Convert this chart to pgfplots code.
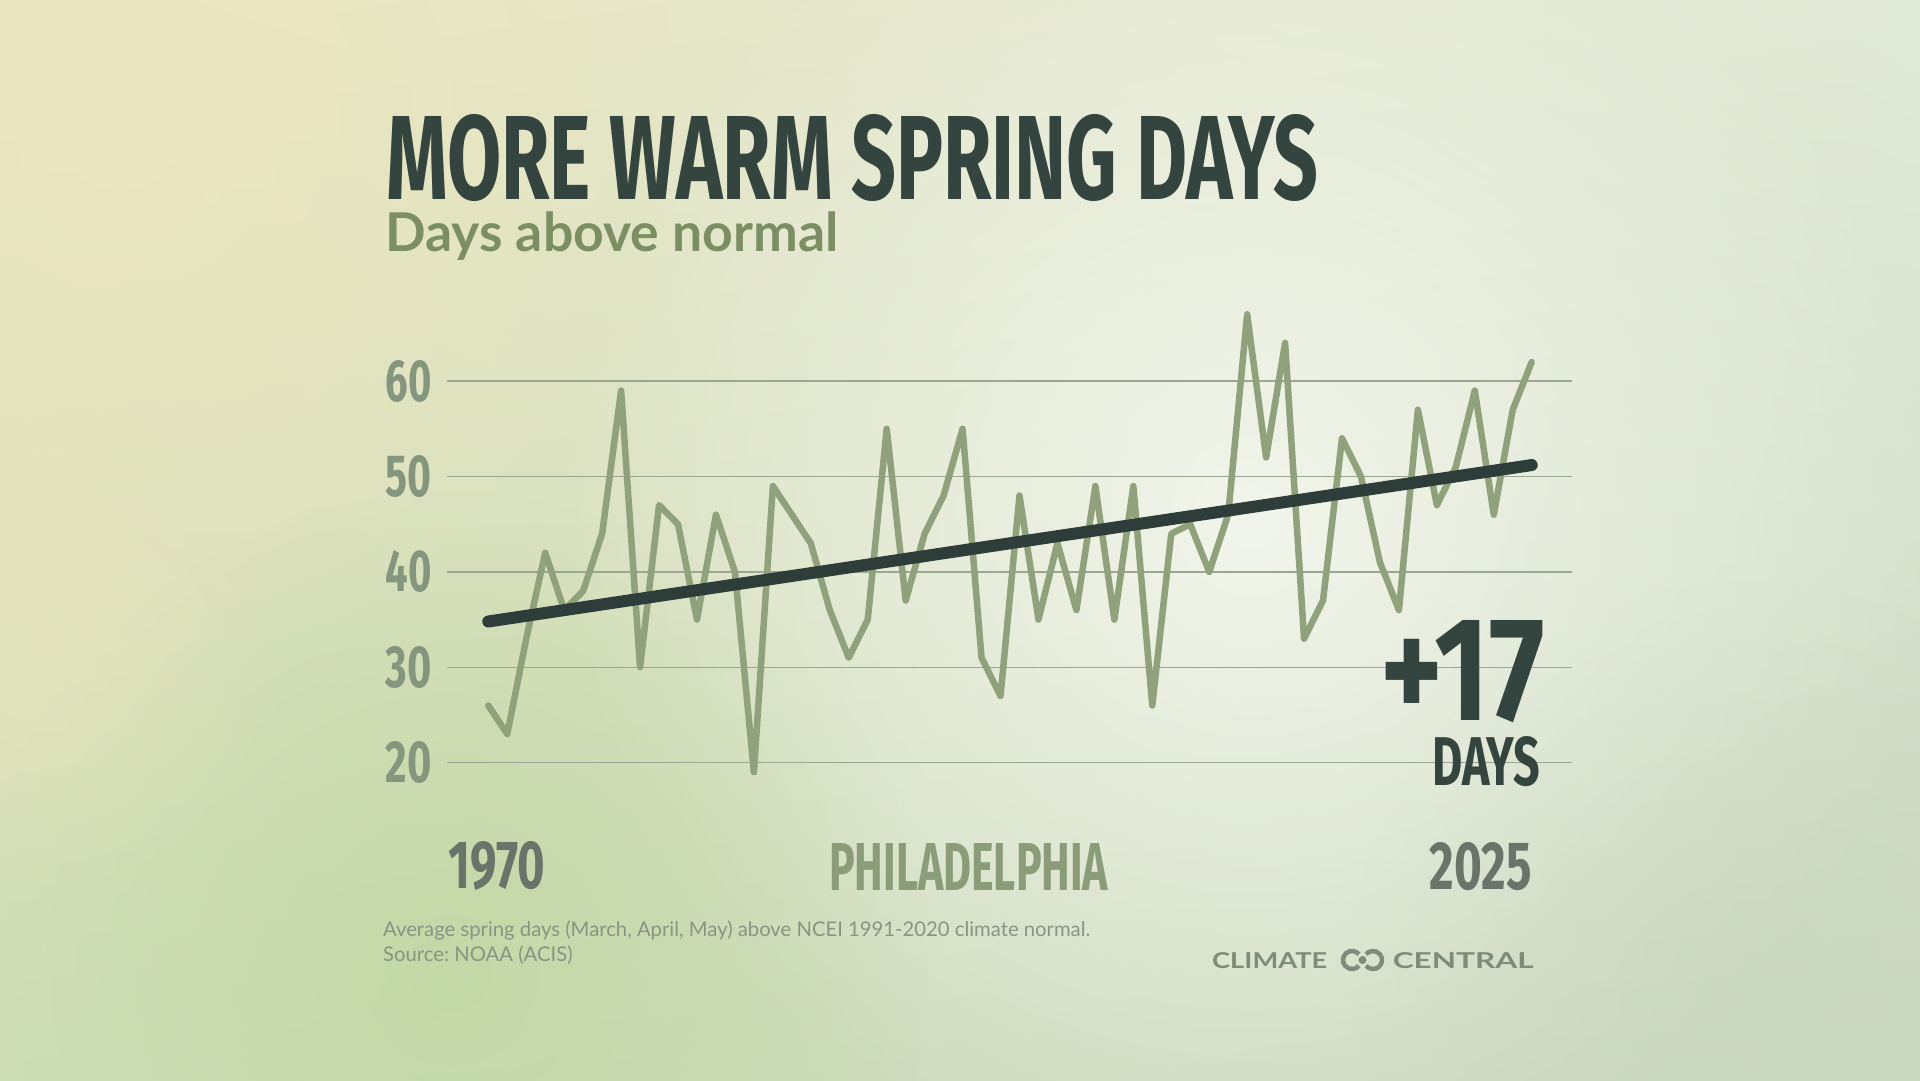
\documentclass[border=0pt]{standalone}
\usepackage{fontspec}
\usepackage{pgfplots}
\pgfplotsset{compat=1.18}
\usetikzlibrary{fadings,shadings}
\setmainfont{Lato}
\newfontfamily\bebas{Fira Sans}
\newfontfamily\lato{Lato}
\frenchspacing
\definecolor{titlec}{HTML}{34443F}
\definecolor{subc}{HTML}{7B8F63}
\definecolor{tickc}{HTML}{84977E}
\definecolor{yearc}{HTML}{6A746A}
\definecolor{cityc}{HTML}{8A9D78}
\definecolor{linec}{HTML}{8FA27C}
\definecolor{trendc}{HTML}{2F3D3A}
\definecolor{gridc}{HTML}{9BA791}
\definecolor{footc}{HTML}{8A9484}
\definecolor{logoc}{HTML}{7F8C7B}
\definecolor{bgUL}{RGB}{233,229,192}
\definecolor{bgUR}{RGB}{226,234,216}
\definecolor{bgLL}{RGB}{206,222,182}
\definecolor{bgLR}{RGB}{203,216,194}
\definecolor{blobW}{RGB}{244,247,239}
\definecolor{blobG}{RGB}{190,214,158}
\definecolor{blobB}{RGB}{236,230,190}
\definecolor{blobR}{RGB}{200,214,188}
\tikzfading[name=fade out, inner color=transparent!0, outer color=transparent!100]
\newcommand{\bb}[3]{\resizebox{#1}{#2}{\bebas\bfseries #3}}
\pgfplotstableread{
year val
1970 26
1971 23
1972 33
1973 42
1974 36
1975 38
1976 44
1977 59
1978 30
1979 47
1980 45
1981 35
1982 46
1983 40
1984 19
1985 49
1986 46
1987 43
1988 36
1989 31
1990 35
1991 55
1992 37
1993 44
1994 48
1995 55
1996 31
1997 27
1998 48
1999 35
2000 43
2001 36
2002 49
2003 35
2004 49
2005 26
2006 44
2007 45
2008 40
2009 46
2010 67
2011 52
2012 64
2013 33
2014 37
2015 54
2016 50
2017 41
2018 36
2019 57
2020 47
2021 51
2022 59
2023 46
2024 57
2025 62
}\datatable
\begin{document}
\begin{tikzpicture}[x=1pt,y=1pt]
\useasboundingbox (0,0) rectangle (1920,1080);
\begin{scope}
\clip (0,0) rectangle (1920,1080);
\shade[upper left=bgUL, upper right=bgUR, lower left=bgLL, lower right=bgLR]
  (0,0) rectangle (1920,1080);
\fill[color=blobW, path fading=fade out, fill opacity=0.9] (1250,560) circle (700);
\fill[color=blobG, path fading=fade out, fill opacity=0.7] (450,110) circle (480);
\fill[color=blobB, path fading=fade out, fill opacity=0.7] (120,950) circle (560);
\fill[color=blobB, path fading=fade out, fill opacity=0.5] (40,420) circle (260);
\fill[color=blobR, path fading=fade out, fill opacity=0.5] (1750,100) circle (400);
\end{scope}
\begin{axis}[
  at={(447pt,269.6pt)}, anchor=south west, scale only axis,
  width=1125pt, height=524.7pt,
  xmin=1967.823, xmax=2027.124, ymin=15, ymax=70,
  axis line style={draw=none}, tick style={draw=none},
  xtick=\empty,
  ytick={20,30,40,50,60},
  yticklabels={\bb{46pt}{41pt}{20},\bb{46pt}{41pt}{30},\bb{46pt}{41pt}{40},\bb{46pt}{41pt}{50},\bb{46pt}{41pt}{60}},
  yticklabel style={anchor=east, inner sep=0pt, xshift=-15pt, text=tickc},
  ymajorgrids, grid style={color=gridc, line width=1.3pt},
  clip=false,
]
\addplot[color=linec, line width=6.5pt, line join=round, line cap=round] table[x=year,y=val] {\datatable};
\addplot[color=trendc, line width=12pt, line cap=round] coordinates {(1970,34.8) (2025,51.2)};
\end{axis}
% titles
\node[anchor=south west, inner sep=0pt, text=titlec] at (386,878) {\bb{932pt}{85pt}{MORE WARM SPRING DAYS}};
\node[anchor=base west, inner sep=0pt, text=subc] at (385,828) {\resizebox{453pt}{!}{\lato\bfseries Days above normal}};
% x labels
\node[anchor=south west, inner sep=0pt, text=yearc] at (448,189) {\bb{97pt}{47pt}{1970}};
\node[anchor=south east, inner sep=0pt, text=yearc] at (1532,189) {\bb{102pt}{47pt}{2025}};
\node[anchor=south west, inner sep=0pt, text=cityc] at (829,189) {\bb{279pt}{47pt}{PHILADELPHIA}};
% annotation
\node[anchor=south west, inner sep=0pt, text=titlec] at (1380,357) {\bb{165pt}{100pt}{+17}};
\node[anchor=south west, inner sep=0pt, text=titlec] at (1432,293) {\bb{108pt}{49pt}{DAYS}};
% footer
\node[anchor=base west, inner sep=0pt, text=footc] at (383,119) {\resizebox{707pt}{!}{\lato\fontsize{18}{21.5}\selectfont\begin{tabular}[b]{@{}l@{}}Average spring days (March, April, May) above NCEI 1991-2020 climate normal.\\Source: NOAA (ACIS)\end{tabular}}};
% logo
\node[anchor=base west, inner sep=0pt, text=logoc] at (1212,112) {\resizebox{115pt}{16pt}{\lato\bfseries CLIMATE}};
\node[anchor=base east, inner sep=0pt, text=logoc] at (1534,112) {\resizebox{141pt}{16pt}{\lato\bfseries CENTRAL}};
\draw[logoc, line width=4.5pt] (1352,120) ++(40:9) arc (40:320:9);
\draw[logoc, line width=4.5pt] (1373,120) ++(220:9) arc (220:500:9);
\fill[logoc] (1362.5,120) circle (4);
\end{tikzpicture}
\end{document}
